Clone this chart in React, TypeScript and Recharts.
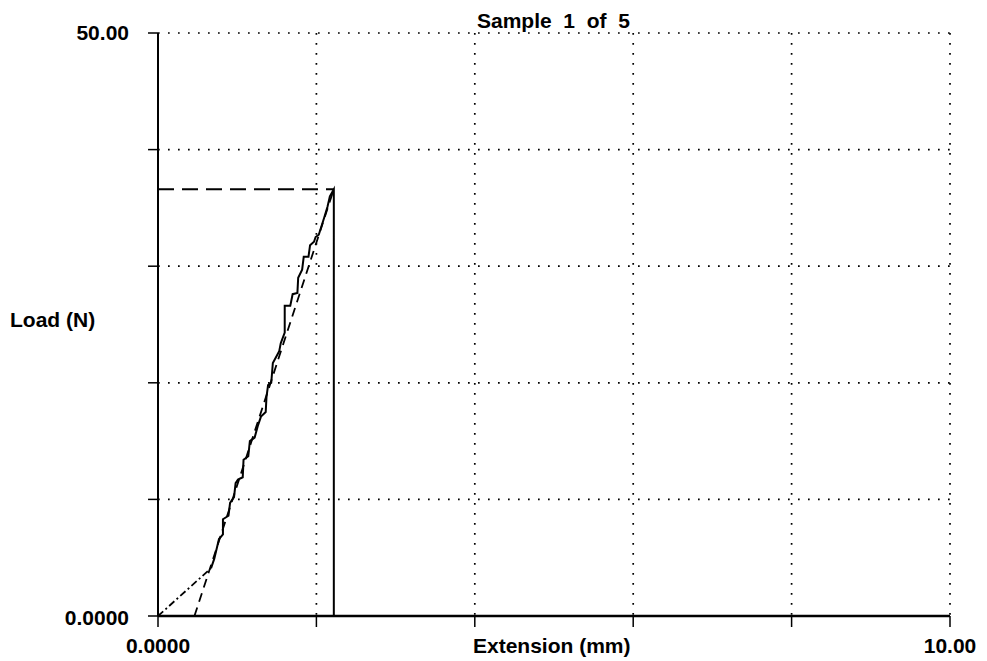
import { ComposedChart, Line, XAxis, YAxis, CartesianGrid } from "recharts";

// axis ticks and the few labels that are printed
const xTicks = [0, 2, 4, 6, 8, 10];
const yTicks = [0, 10, 20, 30, 40, 50];
const xTickLabels: Record<number, string> = { 0: "0.0000", 10: "10.00" };
const yTickLabels: Record<number, string> = { 0: "0.0000", 50: "50.00" };

// measured load trace (stepped), ends with the break drop
const curveExt = [
  0.67, 0.71, 0.77, 0.82, 0.82, 0.89, 0.91, 0.96, 0.98, 1.01, 1.07, 1.08, 1.14,
  1.16, 1.22, 1.26, 1.3, 1.36, 1.37, 1.39, 1.43, 1.45, 1.53, 1.55, 1.6, 1.6,
  1.67, 1.7, 1.76, 1.77, 1.82, 1.84, 1.9, 1.92, 1.97, 1.99, 2.03, 2.1, 2.14,
  2.17, 2.22, 2.22,
];
const curveLoad = [
  4.1, 4.9, 6.6, 7.0, 8.3, 8.6, 9.7, 10.2, 11.4, 11.7, 11.9, 13.4, 13.7, 15.0,
  15.3, 16.3, 17.1, 17.5, 18.8, 19.8, 20.0, 21.7, 22.7, 23.4, 24.3, 26.6, 26.6,
  27.6, 27.7, 29.0, 29.7, 30.8, 30.8, 31.8, 32.1, 32.5, 32.7, 34.2, 35.1, 36.0,
  36.6, 0,
];

// toe region (dash-dot)
const toeExt = [0, 0.67];
const toeLoad = [0, 4.1];

// modulus fit line (dashed)
const fitExt = [0.46, 2.22];
const fitLoad = [0, 36.6];

// peak load marker (long dashes)
const peakExt = [0, 2.22];
const peakLoad = [36.6, 36.6];

const zip = (xs: number[], ys: number[]) => xs.map((x, i) => ({ x, y: ys[i] }));

const font = "'Liberation Sans', Arial, sans-serif";

const XTick = (props: any) => {
  const { x, y, payload } = props;
  const label = xTickLabels[payload.value];
  if (!label) return null;
  return (
    <text x={x} y={y + 9} dy="0.71em" textAnchor="middle" fontFamily={font} fontWeight="bold" fontSize={21} fill="#000">
      {label}
    </text>
  );
};

const YTick = (props: any) => {
  const { x, y, payload } = props;
  const label = yTickLabels[payload.value];
  if (!label) return null;
  return (
    <text x={x - 17} y={y + (payload.value === 0 ? 2 : 0)} dy="0.35em" textAnchor="end" fontFamily={font} fontWeight="bold" fontSize={21} fill="#000">
      {label}
    </text>
  );
};

const textStyle: React.CSSProperties = {
  position: "absolute",
  fontFamily: font,
  fontWeight: "bold",
  fontSize: 21,
  color: "#000",
  whiteSpace: "nowrap",
  lineHeight: "21px",
};

export default function App() {
  return (
    <div style={{ position: "absolute", left: 0, top: 0, width: 987, height: 661, background: "#fff" }}>
      <ComposedChart width={987} height={661} margin={{ top: 33, right: 37, bottom: 15, left: 98 }}>
        <CartesianGrid stroke="#000" strokeWidth={1.7} strokeDasharray="1.7 8.3" />
        <XAxis
          type="number"
          dataKey="x"
          domain={[0, 10]}
          ticks={xTicks}
          allowDataOverflow
          height={30}
          tickSize={11}
          tick={XTick}
          axisLine={{ stroke: "#000", strokeWidth: 2.5 }}
          tickLine={{ stroke: "#000", strokeWidth: 1.5 }}
        />
        <YAxis
          type="number"
          dataKey="y"
          domain={[0, 50]}
          ticks={yTicks}
          allowDataOverflow
          width={60}
          tickSize={10}
          tick={YTick}
          axisLine={{ stroke: "#000", strokeWidth: 2 }}
          tickLine={{ stroke: "#000", strokeWidth: 1.5 }}
        />
        <Line data={zip(peakExt, peakLoad)} dataKey="y" type="linear" stroke="#000" strokeWidth={1.8} strokeDasharray="16 8" dot={false} isAnimationActive={false} />
        <Line data={zip(fitExt, fitLoad)} dataKey="y" type="linear" stroke="#000" strokeWidth={1.8} strokeDasharray="9 6" dot={false} isAnimationActive={false} />
        <Line data={zip(toeExt, toeLoad)} dataKey="y" type="linear" stroke="#000" strokeWidth={1.8} strokeDasharray="7 3 2 3" dot={false} isAnimationActive={false} />
        <Line data={zip(curveExt, curveLoad)} dataKey="y" type="linear" stroke="#000" strokeWidth={2} dot={false} isAnimationActive={false} />
      </ComposedChart>
      <div style={{ ...textStyle, left: 477, top: 10 }}>Sample&nbsp; 1&nbsp; of&nbsp; 5</div>
      <div style={{ ...textStyle, left: 10, top: 309 }}>Load (N)</div>
      <div style={{ ...textStyle, left: 473, top: 635 }}>Extension (mm)</div>
    </div>
  );
}
